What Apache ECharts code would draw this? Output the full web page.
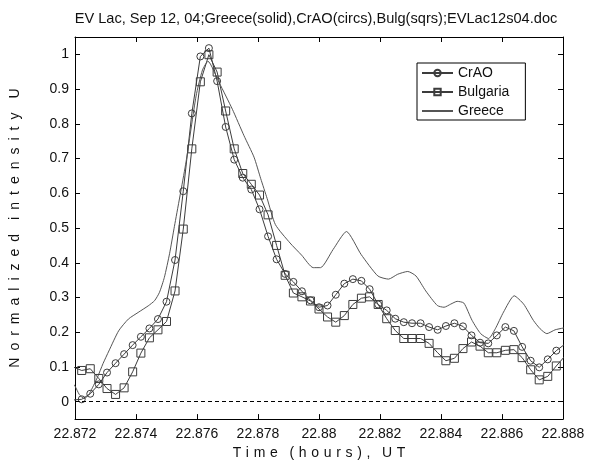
<!DOCTYPE html>
<html>
<head>
<meta charset="utf-8">
<script src="https://cdn.jsdelivr.net/npm/echarts@6/dist/echarts.min.js"></script>
<style>
html,body{margin:0;padding:0;background:#fff;}
#chart{width:595px;height:465px;}
</style>
</head>
<body>
<div id="chart"></div>
<script>
// time in hours UT (1-s cadence) for CrAO and Bulgaria
const times = [22.87194, 22.87222, 22.87250, 22.87278, 22.87305, 22.87333, 22.87361, 22.87389, 22.87416, 22.87444,
  22.87472, 22.87500, 22.87528, 22.87555, 22.87583, 22.87611, 22.87639, 22.87666, 22.87694, 22.87722,
  22.87750, 22.87778, 22.87805, 22.87833, 22.87861, 22.87889, 22.87916, 22.87944, 22.87972, 22.88000,
  22.88028, 22.88055, 22.88083, 22.88111, 22.88139, 22.88166, 22.88194, 22.88222, 22.88250, 22.88278,
  22.88305, 22.88333, 22.88361, 22.88389, 22.88416, 22.88444, 22.88472, 22.88500, 22.88528, 22.88555,
  22.88583, 22.88611, 22.88639, 22.88666, 22.88694, 22.88722, 22.88750, 22.88778, 22.88805];
const crao = [0.005, 0.007, 0.023, 0.050, 0.084, 0.111, 0.137, 0.163, 0.187, 0.211,
  0.238, 0.288, 0.408, 0.606, 0.830, 0.994, 1.018, 0.923, 0.791, 0.697,
  0.645, 0.611, 0.554, 0.476, 0.410, 0.368, 0.345, 0.318, 0.292, 0.272,
  0.277, 0.308, 0.340, 0.353, 0.348, 0.324, 0.280, 0.263, 0.239, 0.229,
  0.226, 0.226, 0.215, 0.207, 0.218, 0.226, 0.217, 0.191, 0.170, 0.168,
  0.191, 0.215, 0.204, 0.158, 0.118, 0.099, 0.122, 0.147, 0.165];
const bulgaria = [0.100, 0.090, 0.095, 0.067, 0.038, 0.021, 0.040, 0.086, 0.140, 0.184,
  0.207, 0.231, 0.319, 0.497, 0.728, 0.921, 0.999, 0.949, 0.837, 0.728,
  0.657, 0.626, 0.595, 0.538, 0.450, 0.364, 0.313, 0.302, 0.290, 0.267,
  0.244, 0.229, 0.248, 0.280, 0.298, 0.302, 0.280, 0.239, 0.205, 0.182,
  0.182, 0.182, 0.168, 0.141, 0.118, 0.125, 0.153, 0.172, 0.160, 0.141,
  0.141, 0.148, 0.150, 0.127, 0.092, 0.063, 0.073, 0.103, 0.130];
// Greece (solid line)
const greeceTimes = [22.87190, 22.87200, 22.87214, 22.87230, 22.87245, 22.87257, 22.87273, 22.87292, 22.87311, 22.87343,
  22.87375, 22.87407, 22.87440, 22.87461, 22.87477, 22.87493, 22.87510, 22.87526, 22.87564, 22.87597,
  22.87618, 22.87636, 22.87673, 22.87716, 22.87754, 22.87787, 22.87809, 22.87830, 22.87857, 22.87905,
  22.87943, 22.87981, 22.88005, 22.88046, 22.88090, 22.88138, 22.88193, 22.88228, 22.88258, 22.88291,
  22.88318, 22.88350, 22.88388, 22.88410, 22.88432, 22.88453, 22.88475, 22.88502, 22.88530, 22.88556,
  22.88578, 22.88605, 22.88640, 22.88671, 22.88703, 22.88725, 22.88747, 22.88774, 22.88800, 22.88810];
const greece = [0.055, 0.045, 0.021, 0.009, 0.020, 0.040, 0.069, 0.110, 0.146, 0.204,
  0.238, 0.257, 0.276, 0.291, 0.315, 0.358, 0.426, 0.505, 0.690, 0.880,
  0.955, 0.980, 0.918, 0.842, 0.766, 0.704, 0.642, 0.585, 0.510, 0.457,
  0.422, 0.386, 0.386, 0.438, 0.490, 0.424, 0.362, 0.353, 0.367, 0.375,
  0.362, 0.319, 0.277, 0.272, 0.281, 0.289, 0.284, 0.234, 0.196, 0.182,
  0.210, 0.258, 0.305, 0.281, 0.234, 0.210, 0.196, 0.207, 0.212, 0.213];
const xTicks = [22.872, 22.874, 22.876, 22.878, 22.880, 22.882, 22.884, 22.886, 22.888];
const yTicks = [0, 0.1, 0.2, 0.3, 0.4, 0.5, 0.6, 0.7, 0.8, 0.9, 1];
const titleText = 'EV Lac, Sep 12, 04;Greece(solid),CrAO(circs),Bulg(sqrs);EVLac12s04.doc';
const xWords = ['Time', '(hours),', 'UT'];
const yWords = ['Normalized', 'intensity', 'U'];

// wide letter spacing of the original axis labels
const spaced = (words, inner, between) => words.map(w => w.split('').join(inner)).join(between);
const xName = spaced(xWords, '\u2004', '\u2002\u2004');
const yName = spaced(yWords, '\u2002', '\u2002\u2002');

const FONT = 'Liberation Sans, Arial, sans-serif';
const ink = '#000';
const lineInk = '#3c3c3c';
const pair = (xs, ys) => xs.map((x, i) => [x, ys[i]]);

const chart = echarts.init(document.getElementById('chart'), null, {renderer: 'canvas'});
const axisCommon = {
  type: 'value',
  axisLine: {show: true, onZero: false, lineStyle: {color: ink, width: 1}},
  splitLine: {show: false}
};
chart.setOption({
  animation: false,
  backgroundColor: '#fff',
  textStyle: {fontFamily: FONT},
  grid: {left: 72, right: 32, top: 37, bottom: 42, containLabel: false},
  graphic: [{
    type: 'text', x: 316, y: 19,
    style: {text: titleText, font: '14.6px ' + FONT, fill: '#111', textAlign: 'center', textVerticalAlign: 'middle'}
  }],
  legend: {
    orient: 'vertical', left: 417, top: 63,
    itemWidth: 31, itemHeight: 8, itemGap: 5,
    padding: [3, 16, 2, 4],
    borderColor: ink, borderWidth: 1, backgroundColor: '#fff',
    textStyle: {fontFamily: FONT, fontSize: 14, color: '#111'},
    data: ['CrAO', 'Bulgaria', {name: 'Greece', itemStyle: {opacity: 0}}]
  },
  xAxis: [
    Object.assign({}, axisCommon, {
      min: 22.872, max: 22.888, position: 'bottom',
      axisTick: {inside: true, length: 5, lineStyle: {color: ink}, customValues: xTicks},
      axisLabel: {customValues: xTicks, fontFamily: FONT, fontSize: 14, color: '#111', margin: 8,
        formatter: v => String(+(+v).toFixed(3))},
      name: xName, nameLocation: 'middle', nameGap: 26,
      nameTextStyle: {fontFamily: FONT, fontSize: 14, color: '#111'}
    }),
    Object.assign({}, axisCommon, {
      min: 22.872, max: 22.888, position: 'top',
      axisTick: {inside: true, length: 5, lineStyle: {color: ink}, customValues: xTicks},
      axisLabel: {show: false}
    })
  ],
  yAxis: [
    Object.assign({}, axisCommon, {
      min: -0.05, max: 1.05, position: 'left',
      axisTick: {inside: true, length: 5, lineStyle: {color: ink}, customValues: yTicks},
      axisLabel: {customValues: yTicks, fontFamily: FONT, fontSize: 14, color: '#111', margin: 6,
        formatter: v => String(+(+v).toFixed(2))},
      name: yName, nameLocation: 'middle', nameGap: 53,
      nameTextStyle: {fontFamily: FONT, fontSize: 14, color: '#111'}
    }),
    Object.assign({}, axisCommon, {
      min: -0.05, max: 1.05, position: 'right',
      axisTick: {inside: true, length: 5, lineStyle: {color: ink}, customValues: yTicks},
      axisLabel: {show: false}
    })
  ],
  series: [
    {
      name: 'CrAO', type: 'line', data: pair(times, crao),
      symbol: 'circle', symbolSize: 7, showAllSymbol: true, clip: true,
      lineStyle: {color: lineInk, width: 1},
      itemStyle: {color: 'rgba(255,255,255,0)', borderColor: lineInk, borderWidth: 1},
      emphasis: {disabled: true},
      markLine: {
        silent: true, symbol: ['none', 'none'], label: {show: false},
        lineStyle: {color: ink, type: [4, 3], width: 1},
        data: [{yAxis: 0}]
      }
    },
    {
      name: 'Bulgaria', type: 'line', data: pair(times, bulgaria),
      symbol: 'rect', symbolSize: 8, showAllSymbol: true, clip: true,
      lineStyle: {color: lineInk, width: 1},
      itemStyle: {color: 'rgba(255,255,255,0)', borderColor: lineInk, borderWidth: 1},
      emphasis: {disabled: true}
    },
    {
      name: 'Greece', type: 'line', data: pair(greeceTimes, greece),
      symbol: 'none', clip: true, smooth: 0.2,
      lineStyle: {color: '#555', width: 1},
      itemStyle: {color: '#555'},
      emphasis: {disabled: true}
    }
  ]
});
</script>
</body>
</html>
